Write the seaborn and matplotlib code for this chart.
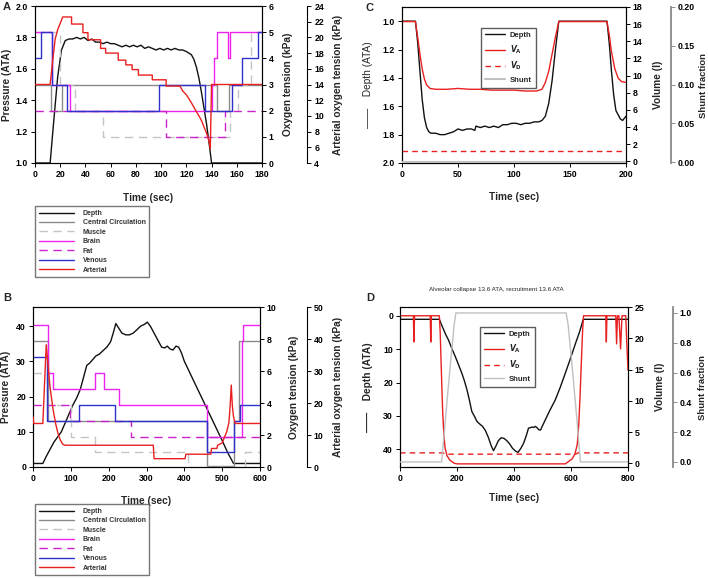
import matplotlib
matplotlib.use("Agg")
import matplotlib.pyplot as plt
import seaborn as sns
import numpy as np

# ---------------- panel A (pressure / oxygen tensions, 0-180 s) ----------------
a_depth_t = [0, 12, 15, 18, 21, 24, 27, 30, 33, 36, 39, 42, 45, 48, 51, 54, 57, 60, 63, 66, 69, 72, 75, 78,
             81, 84, 87, 90, 93, 96, 99, 102, 105, 108, 111, 114, 117, 120,
             122, 124, 126, 128, 130, 132, 134, 136, 138, 140, 180]
a_depth_v = [1.0, 1.0, 1.28, 1.55, 1.72, 1.78, 1.79, 1.79, 1.80, 1.79, 1.80, 1.78, 1.79, 1.77, 1.77, 1.76,
             1.77, 1.76, 1.76, 1.75, 1.74, 1.75, 1.74, 1.75, 1.74, 1.75, 1.73, 1.74, 1.73, 1.72, 1.73, 1.72,
             1.73, 1.72, 1.73, 1.72, 1.72, 1.71,
             1.70, 1.69, 1.66, 1.61, 1.54, 1.45, 1.35, 1.25, 1.13, 1.0, 1.0]
a_central_t = [0, 12.6, 21.5, 144, 154, 180]
a_central_v = [3, 2, 3, 2, 3, 3]
a_muscle_t = [0, 19.6, 32, 54, 155, 161, 171, 180]
a_muscle_v = [5, 3, 2, 1, 2, 3, 5, 5]
a_brain_t = [0, 13.5, 28, 140, 142, 144, 153, 154.5, 180]
a_brain_v = [5, 3, 2, 3, 4, 5, 4, 5, 5]
a_fat_t = [0, 104, 151, 180]
a_fat_v = [2, 1, 2, 2]
a_venous_t = [0, 4.5, 13.5, 25.5, 98.5, 134.5, 156.5, 164.5, 177, 180]
a_venous_v = [4, 5, 3, 2, 3, 2, 3, 4, 5, 5]
a_art_t = [0, 12, 14, 16, 18, 20, 22, 29, 29, 38, 38, 42, 42, 52, 52, 56, 56, 66, 66, 72, 72, 77, 77, 82,
           82, 93, 93, 104, 104, 115, 117, 120, 122, 125, 127, 130, 132, 134, 136, 138, 139, 140, 180]
a_art_v = [14, 14, 17, 19.8, 21, 21.8, 22.6, 22.6, 21.7, 21.7, 20.6, 20.6, 19.7, 19.7, 18.6, 18.6, 18.0,
           18.0, 17.1, 17.1, 16.5, 16.5, 15.9, 15.9, 15.2, 15.2, 14.6, 14.6, 13.8, 13.8,
           13.2, 12.7, 12.2, 11.4, 10.8, 10.0, 9.4, 8.6, 7.8, 6.8, 5.8, 14, 14]

# ---------------- panel B (0-600 s) ----------------
b_depth_t = [0, 26, 35, 45, 55, 65, 75, 85, 95, 105, 115, 125, 135, 142, 150, 158, 166, 175, 185, 195,
             205, 212, 219, 226, 235, 245, 255, 265, 275, 285, 295, 302, 310, 320, 330, 340, 348, 355,
             362, 370, 378, 385, 392, 400, 420, 440, 460, 480, 500, 515, 530, 600]
b_depth_v = [1, 1, 3, 5, 7, 8.5, 10, 12.5, 15, 17.5, 19.5, 22, 26, 28.8, 29.5, 30.5, 31.5, 32, 33, 34,
             35.5, 38, 40.7, 39.5, 38, 37.5, 37.5, 38, 39, 40, 40.5, 41.1, 40, 38, 36, 34, 33.8, 34.3,
             33.5, 33.2, 34.3, 34, 32.5, 30, 25.5, 21, 16.5, 12, 7.5, 4, 1, 1]
b_central_t = [0, 40, 460, 530, 545, 600]
b_central_v = [7.85, 2.9, 0.05, 2.9, 7.85, 7.85]
b_muscle_t = [0, 37, 101, 165, 410, 560, 600]
b_muscle_v = [5.86, 3.9, 1.9, 0.95, 0.0, 0.95, 0.95]
b_brain_t = [0, 40, 52, 165, 187, 227, 459, 552, 556, 600]
b_brain_v = [8.85, 5.86, 4.87, 5.86, 4.87, 3.9, 1.9, 7.85, 8.85, 8.85]
b_fat_t = [0, 97, 260, 600]
b_fat_v = [3.9, 2.9, 1.9, 1.9]
b_venous_t = [0, 38, 122, 218, 460, 532, 546, 600]
b_venous_v = [6.85, 2.9, 3.9, 2.9, 0.95, 2.9, 3.9, 3.9]
b_art_t = [0, 2, 26, 35, 40, 45, 53, 60, 66, 72, 78, 84, 318, 320, 402, 404, 470, 472, 486, 488,
           500, 505, 512, 518, 521, 524, 527, 530, 534, 600]
b_art_v = [15.7, 13.6, 13.6, 38.2, 31.4, 25, 18, 13.5, 10.5, 8.5, 7.2, 6.8, 6.8, 2.6, 2.6, 4, 4, 5.8,
           5.8, 6.8, 7.5, 9, 11, 14, 19, 25.6, 19, 15.7, 13.6, 13.6]

# ---------------- panel C (0-200 s) ----------------
c_depth_t = [0, 12, 14, 16, 18, 20, 22, 24, 26, 30, 34, 38, 42, 46, 50, 54, 58, 62, 65, 66, 70, 74, 78,
             82, 86, 90, 94, 98, 102, 106, 110, 114, 118, 122, 125, 128, 131, 134, 137, 140,
             183, 185, 187, 189, 191, 193, 195, 197, 200]
c_depth_v = [1.0, 1.0, 1.15, 1.35, 1.55, 1.68, 1.75, 1.78, 1.79, 1.79, 1.80, 1.80, 1.79, 1.78, 1.76,
             1.77, 1.76, 1.76, 1.77, 1.74, 1.75, 1.74, 1.75, 1.74, 1.75, 1.73, 1.73, 1.72, 1.72, 1.73,
             1.72, 1.72, 1.71, 1.71, 1.70, 1.67, 1.58, 1.42, 1.20, 1.0,
             1.0, 1.15, 1.35, 1.52, 1.63, 1.66, 1.69, 1.70, 1.67]
c_va_t = [0, 12, 14, 16, 18, 20, 22, 25, 30, 40, 50, 60, 70, 80, 90, 100, 110, 120, 125, 128, 131, 134,
          137, 140, 183, 185, 187, 190, 193, 196, 200]
c_va_v = [16.3, 16.3, 14.5, 12.5, 10.8, 9.6, 8.9, 8.5, 8.4, 8.4, 8.5, 8.4, 8.4, 8.3, 8.3, 8.3, 8.2, 8.2,
          8.4, 9.2, 10.5, 12.5, 14.5, 16.3, 16.3, 14.8, 12.8, 10.8, 9.7, 9.3, 9.2]
c_vd_t = [0, 200]
c_vd_v = [1.16, 1.16]
c_shunt_t = [0, 200]
c_shunt_v = [0.0, 0.0]

# ---------------- panel D (0-800 s) ----------------
d_depth_t = [0, 138, 150, 160, 170, 182, 194, 206, 217, 226, 235, 244, 252, 262, 270, 280, 290, 300,
             310, 320, 328, 336, 345, 355, 365, 375, 385, 395, 405, 414, 424, 434, 443, 451, 457, 463,
             469, 475, 481, 487, 493, 500, 510, 525, 545, 562, 580, 598, 616, 630, 643, 800]
d_depth_v = [1, 1, 3.5, 5.5, 7.2, 9.8, 12.2, 14.8, 17.2, 19.5, 22.2, 25.5, 28.7, 30.3, 31.7, 32.5, 33.2,
             34.5, 36.5, 39, 40.5, 39.2, 37.5, 36.6, 36.8, 37.5, 38.5, 39.8, 40.6, 41, 39.8, 38.2, 36,
             33.7, 33.6, 33.4, 33.5, 33.2, 33.6, 34.2, 34.3, 33, 31.2, 28.5, 25.2, 21.5, 17.2, 12.8,
             8.2, 4.8, 1, 1]
d_va_t = [0, 47, 49, 51, 106, 108, 110, 138, 141, 144, 147, 150, 154, 158, 165, 175, 190, 200, 580, 592,
          604, 614, 622, 627, 632, 637, 641, 644, 722, 724, 726, 757, 760, 763, 768, 774, 779, 784, 792,
          796, 800]
d_va_v = [23.6, 23.6, 19.4, 23.6, 23.6, 19.4, 23.6, 23.6, 21, 16.5, 12, 8, 4.5, 2.5, 1.2, 0.5, 0, -0.1,
          -0.1, 0.3, 0.7, 1.5, 3, 6, 11, 17, 21.5, 23.6, 23.6, 19.4, 23.6, 23.6, 19.1, 23.6, 23.6, 18.3,
          23.6, 23.6, 23.6, 19, 14.9]
d_vd_t = [0, 150, 160, 615, 625, 800]
d_vd_v = [1.66, 1.66, 1.45, 1.45, 1.66, 1.66]
d_shunt_t = [0, 146, 160, 175, 190, 196, 583, 590, 605, 620, 633, 800]
d_shunt_v = [0, 0, 0.3, 0.62, 0.92, 1.0, 1.0, 0.92, 0.62, 0.3, 0, 0]

tissue_names = ["Depth", "Central Circulation", "Muscle", "Brain", "Fat", "Venous", "Arterial"]
gas_names = ["Depth", r"$V_\mathrm{A}$", r"$V_\mathrm{D}$", "Shunt"]

BLACK = "#111111"
CENTRAL = "#8a8a8a"
MUSCLE = "#c4c4c4"
BRAIN = "#ee22ee"
FAT = "#cc22cc"
VENOUS = "#3030cc"
RED = "#e82020"
SHUNT = "#c0c0c0"

W, H = 708, 579


def box(l, t, r, b):
    return [l / W, 1 - b / H, (r - l) / W, (b - t) / H]


def draw(ax, t, v, color, ls="-", lw=1.0, steps=False):
    kw = {"drawstyle": "steps-post"} if steps else {}
    sns.lineplot(x=t, y=v, ax=ax, color=color, linestyle=ls, linewidth=lw,
                 estimator=None, sort=False, legend=False, **kw)
    return ax.lines[-1]


def third_axis(ax, offset, color="black", lw=0.8):
    ax3 = ax.twinx()
    ax3.spines["right"].set_position(("axes", offset))
    for s in ["top", "left", "bottom"]:
        ax3.spines[s].set_visible(False)
    ax3.spines["right"].set_color(color)
    ax3.spines["right"].set_linewidth(lw)
    ax3.tick_params(axis="y", colors=color, labelcolor="black")
    return ax3


def place_labels(ax, ax2, ax3, left, bottom, right2, right3, w, h):
    # label centres given in pixels relative to the axes box
    ax.yaxis.set_label_coords(left / w, 0.5)
    ax.xaxis.set_label_coords(0.5, -bottom / h)
    ax2.yaxis.set_label_coords(right2 / w, 0.5)
    ax3.yaxis.set_label_coords(right3 / w, 0.5)


sns.set_style("ticks")
plt.rcParams["font.family"] = ["Liberation Sans", "DejaVu Sans"]
plt.rcParams.update({
    "font.weight": "bold",
    "axes.labelweight": "bold",
    "axes.edgecolor": "black",
    "axes.linewidth": 0.8,
    "xtick.color": "black",
    "ytick.color": "black",
    "xtick.major.size": 3,
    "ytick.major.size": 3,
    "xtick.major.width": 0.7,
    "ytick.major.width": 0.7,
    "xtick.major.pad": 2,
    "ytick.major.pad": 2,
    "xtick.labelsize": 6.3,
    "ytick.labelsize": 6.3,
    "axes.labelsize": 7.3,
})

fig = plt.figure(figsize=(W / 100, H / 100), dpi=100)

tissue_legend = dict(loc="upper left", frameon=True, fancybox=False, edgecolor="#555555",
                     prop={"size": 5, "weight": "bold"}, handlelength=5, handletextpad=1.3,
                     labelspacing=0.35, borderpad=0.5, labelcolor="#333333")

# ---------------- A ----------------
axA = fig.add_axes(box(35, 6, 262, 163))
axA2 = axA.twinx()
axA3 = third_axis(axA, 1.2)
hA = [draw(axA, a_depth_t, a_depth_v, BLACK),
      draw(axA2, a_central_t, a_central_v, CENTRAL, steps=True),
      draw(axA2, a_muscle_t, a_muscle_v, MUSCLE, ls=(0, (6, 4)), steps=True),
      draw(axA2, a_brain_t, a_brain_v, BRAIN, steps=True),
      draw(axA2, a_fat_t, a_fat_v, FAT, ls=(0, (6, 4)), steps=True),
      draw(axA2, a_venous_t, a_venous_v, VENOUS, steps=True),
      draw(axA3, a_art_t, a_art_v, RED)]
axA.set_xlim(0, 180)
axA.set_xticks(np.arange(0, 181, 20))
axA.set_ylim(1.0, 2.0)
axA.set_yticks(np.arange(1.0, 2.01, 0.2))
axA.set_yticklabels([f"{v:.1f}" for v in np.arange(1.0, 2.01, 0.2)])
axA2.set_ylim(0, 6)
axA2.set_yticks(range(0, 7))
axA3.set_ylim(4, 24)
axA3.set_yticks(range(4, 25, 2))
axA.set_xlabel("Time (sec)")
axA.set_ylabel("Pressure (ATA)")
axA2.set_ylabel("Oxygen tension (kPa)")
axA3.set_ylabel("Arterial oxygen tension (kPa)")
place_labels(axA, axA2, axA3, -23, 30, 248, 298, 227, 157)
fig.legend(hA, tissue_names, bbox_to_anchor=(32 / W, 1 - 203 / H), **tissue_legend)

# ---------------- B ----------------
axB = fig.add_axes(box(33, 307, 260, 467))
axB2 = axB.twinx()
axB3 = third_axis(axB, 1.207)
hB = [draw(axB, b_depth_t, b_depth_v, BLACK),
      draw(axB2, b_central_t, b_central_v, CENTRAL, steps=True),
      draw(axB2, b_muscle_t, b_muscle_v, MUSCLE, ls=(0, (6, 4)), steps=True),
      draw(axB2, b_brain_t, b_brain_v, BRAIN, steps=True),
      draw(axB2, b_fat_t, b_fat_v, FAT, ls=(0, (6, 4)), steps=True),
      draw(axB2, b_venous_t, b_venous_v, VENOUS, steps=True),
      draw(axB3, b_art_t, b_art_v, RED)]
axB.set_xlim(0, 600)
axB.set_xticks(range(0, 601, 100))
axB.set_ylim(0, 45.4)
axB.set_yticks(range(0, 41, 10))
axB2.set_ylim(0, 10)
axB2.set_yticks(range(0, 11, 2))
axB3.set_ylim(0, 50)
axB3.set_yticks(range(0, 51, 10))
axB.set_xlabel("Time (sec)")
axB.set_ylabel("Pressure (ATA)")
axB2.set_ylabel("Oxygen tension (kPa)")
axB3.set_ylabel("Arterial oxygen tension (kPa)")
place_labels(axB, axB2, axB3, -22, 29, 256, 300, 227, 160)
fig.legend(hB, tissue_names, bbox_to_anchor=(32 / W, 1 - 501 / H), **tissue_legend)

gas_legend = dict(loc="upper left", frameon=True, fancybox=False, edgecolor="#333333",
                  prop={"size": 5.5, "weight": "bold"}, handlelength=2.6, handletextpad=0.7,
                  labelspacing=0.55, borderpad=0.5)

# ---------------- C ----------------
axC = fig.add_axes(box(402, 7, 626, 163))
axC2 = axC.twinx()
axC3 = third_axis(axC, 1.2, color="#8a8a8a", lw=1.3)
hC = [draw(axC, c_depth_t, c_depth_v, BLACK),
      draw(axC2, c_va_t, c_va_v, RED),
      draw(axC2, c_vd_t, c_vd_v, RED, ls=(0, (4, 3))),
      draw(axC3, c_shunt_t, c_shunt_v, SHUNT, lw=1.5)]
axC.set_xlim(0, 200)
axC.set_xticks(range(0, 201, 50))
axC.set_ylim(2.0, 0.9)
axC.set_yticks(np.arange(1.0, 2.01, 0.2))
axC.set_yticklabels([f"{v:.1f}" for v in np.arange(1.0, 2.01, 0.2)])
axC2.set_ylim(-0.2, 18)
axC2.set_yticks(range(0, 19, 2))
axC3.set_ylim(-0.001, 0.2)
axC3.set_yticks([0.0, 0.05, 0.10, 0.15, 0.20])
axC3.set_yticklabels(["0.00", "0.05", "0.10", "0.15", "0.20"])
axC.set_xlabel("Time (sec)")
axC.set_ylabel("——    Depth (ATA)", fontweight="normal")
axC2.set_ylabel("Volume (l)")
axC3.set_ylabel("Shunt fraction", fontsize=6.8)
place_labels(axC, axC2, axC3, -29, 29, 251, 297, 224, 156)
fig.legend(hC, gas_names, bbox_to_anchor=(477 / W, 1 - 24 / H), **gas_legend)

# ---------------- D ----------------
axD = fig.add_axes(box(400, 307, 628, 467))
axD2 = axD.twinx()
axD3 = third_axis(axD, 1.197, color="#8a8a8a", lw=1.3)
hD = [draw(axD, d_depth_t, d_depth_v, BLACK),
      draw(axD2, d_va_t, d_va_v, RED),
      draw(axD2, d_vd_t, d_vd_v, RED, ls=(0, (4, 3))),
      draw(axD3, d_shunt_t, d_shunt_v, SHUNT)]
axD.set_xlim(0, 800)
axD.set_xticks(range(0, 801, 200))
axD.set_ylim(45.4, -2.7)
axD.set_yticks(range(0, 41, 10))
axD2.set_ylim(-0.6, 25)
axD2.set_yticks(range(0, 26, 5))
axD3.set_ylim(-0.034, 1.04)
axD3.set_yticks([0.0, 0.2, 0.4, 0.6, 0.8, 1.0])
axD3.set_yticklabels(["0.0", "0.2", "0.4", "0.6", "0.8", "1.0"])
axD.set_xlabel("Time (sec)")
axD.set_ylabel("——    Depth (ATA)")
axD2.set_ylabel("Volume (l)")
axD3.set_ylabel("Shunt fraction", fontsize=6.8)
place_labels(axD, axD2, axD3, -27, 26, 255, 298, 228, 160)
fig.legend(hD, gas_names, bbox_to_anchor=(476 / W, 1 - 323 / H), **gas_legend)

fig.text(496 / W, 1 - 290 / H, "Alveolar collapse 13.6 ATA, recruitment 13.6 ATA",
         fontsize=4.5, fontweight="normal", ha="center", va="center")

for letter, x, y in [("A", 3, 7), ("B", 3, 298), ("C", 366, 8), ("D", 366, 298)]:
    fig.text(x / W, 1 - y / H, letter, fontsize=8, fontweight="bold", ha="left", va="center")

fig.savefig("out.png", dpi=100)
